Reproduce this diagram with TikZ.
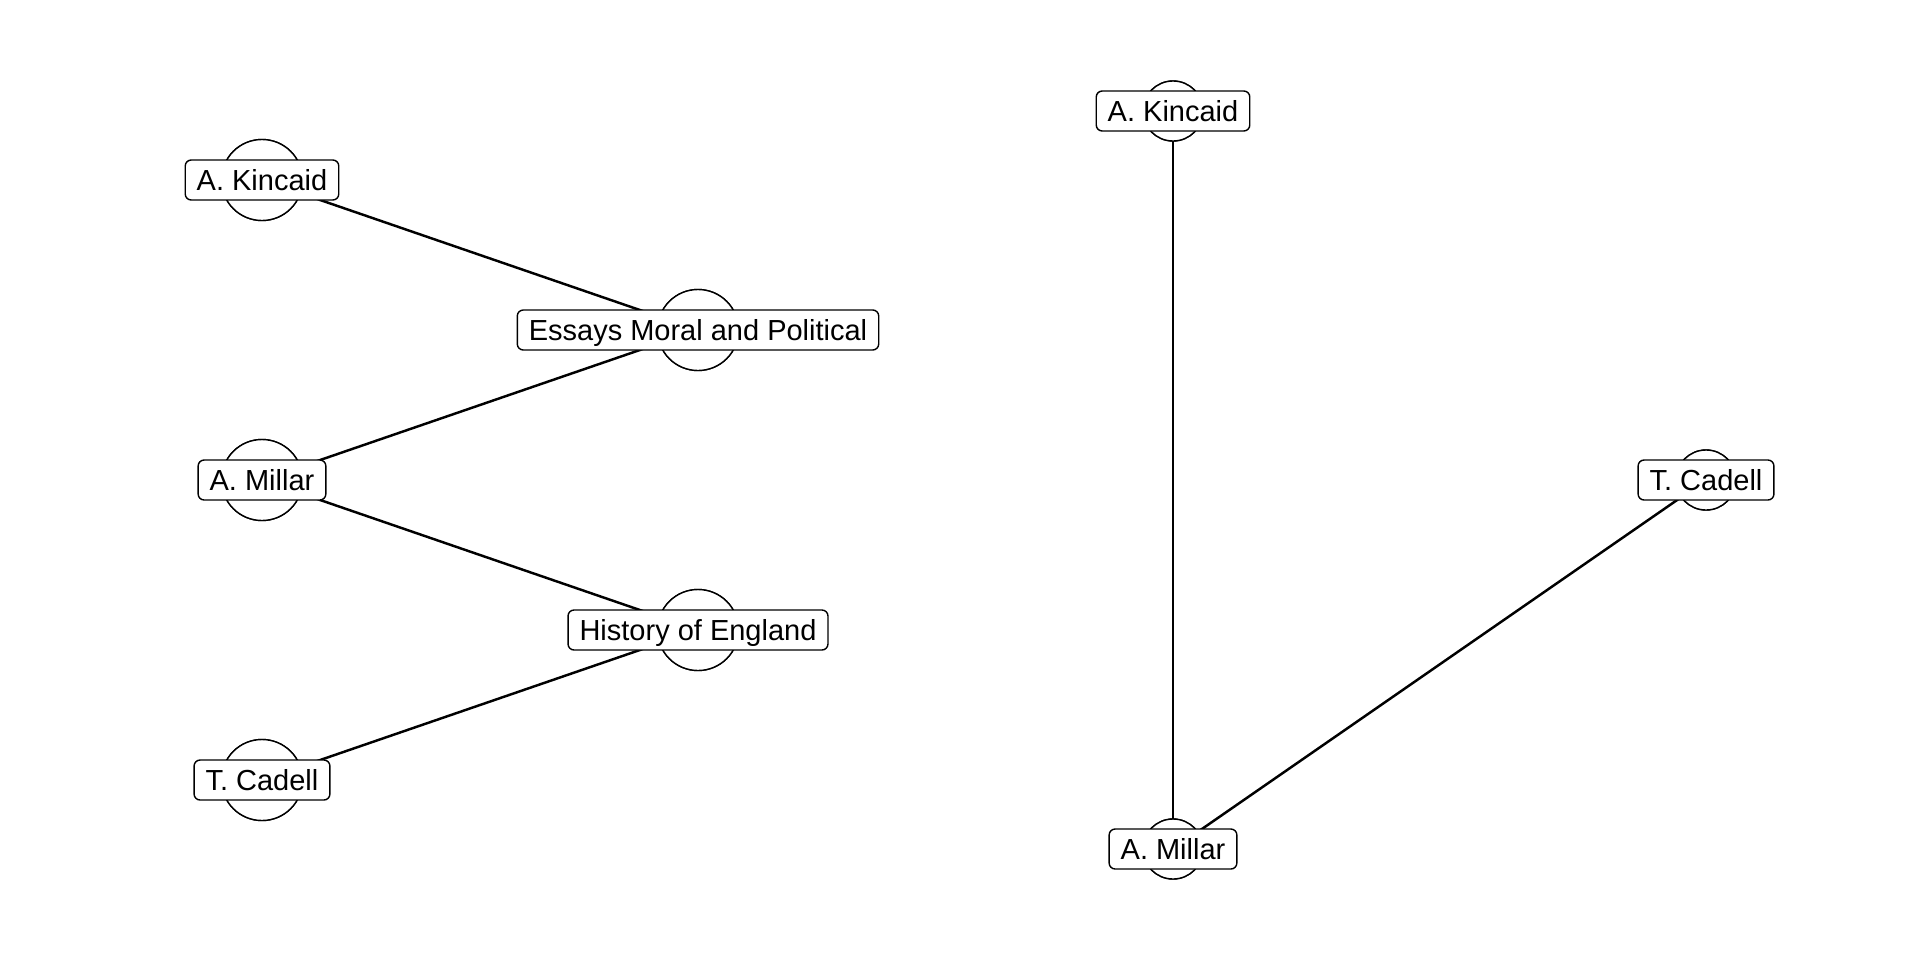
\documentclass[tikz,border=0pt]{standalone}
\usepackage{fontspec}
\setmainfont{Liberation Sans}

\begin{document}
\begin{tikzpicture}[line width=0.7pt,
	big/.style={circle,draw,fill=white,line width=0.4pt,minimum size=8.1mm,inner sep=0pt},
	small/.style={circle,draw,fill=white,line width=0.4pt,minimum size=6mm,inner sep=0pt},
	tag/.style={draw,fill=white,rounded corners=0.6mm,line width=0.4pt,inner xsep=1.15mm,inner ysep=0pt,
		minimum height=4mm,text height=2.68mm,text depth=0.6mm,font=\fontsize{8.25}{10}\selectfont}]
	\useasboundingbox (0,0) rectangle (19.2,9.6);
	% left graph
	\node[big] (kincaidL) at (2.62,7.80) {};
	\node[big] (essays) at (6.98,6.30) {};
	\node[big] (millarL) at (2.62,4.80) {};
	\node[big] (history) at (6.98,3.30) {};
	\node[big] (cadellL) at (2.62,1.80) {};
	% right graph
	\node[small] (kincaidR) at (11.73,8.49) {};
	\node[small] (cadellR) at (17.06,4.80) {};
	\node[small] (millarR) at (11.73,1.11) {};
	\draw (kincaidL.center) -- (essays.center);
	\draw (millarL.center) -- (essays.center);
	\draw (millarL.center) -- (history.center);
	\draw (cadellL.center) -- (history.center);
	\draw (kincaidR.center) -- (millarR.center);
	\draw (cadellR.center) -- (millarR.center);
	% circles again on top of the edges
	\foreach \n in {kincaidL,essays,millarL,history,cadellL}
		\node[big] at (\n) {};
	\foreach \n in {kincaidR,cadellR,millarR}
		\node[small] at (\n) {};
	% labels
	\node[tag] at (kincaidL) {A. Kincaid};
	\node[tag] at (essays) {Essays Moral and Political};
	\node[tag] at (millarL) {A. Millar};
	\node[tag] at (history) {History of England};
	\node[tag] at (cadellL) {T. Cadell};
	\node[tag] at (kincaidR) {A. Kincaid};
	\node[tag] at (cadellR) {T. Cadell};
	\node[tag] at (millarR) {A. Millar};
\end{tikzpicture}
\end{document}
